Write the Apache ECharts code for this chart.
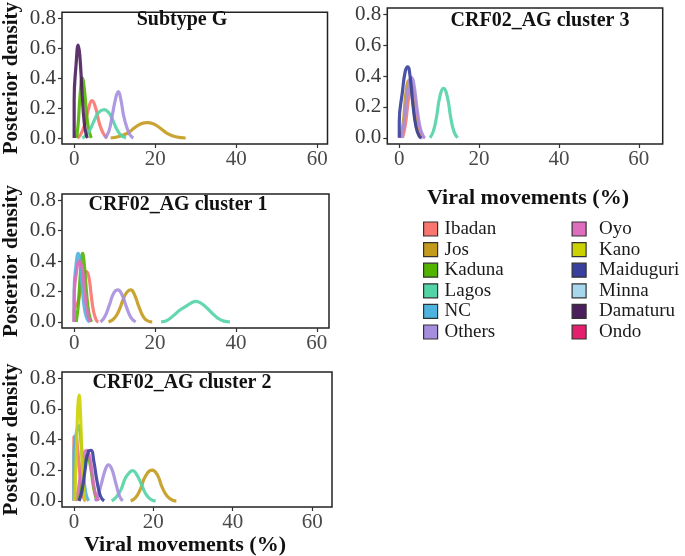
<!DOCTYPE html>
<html>
<head>
<meta charset="utf-8">
<script src="https://cdn.jsdelivr.net/npm/echarts@6/dist/echarts.min.js"></script>
<style>
html,body{margin:0;padding:0;background:#fff;}
#chart{width:685px;height:556px;}
</style>
</head>
<body>
<div id="chart"></div>
<script>
// ---------- data ----------
const xTicks = [0, 20, 40, 60];
const yTicks = [0, 0.2, 0.4, 0.6, 0.8];
const panelTitles = ['Subtype G', 'CRF02_AG cluster 3', 'CRF02_AG cluster 1', 'CRF02_AG cluster 2'];
const locations = ['Ibadan', 'Jos', 'Kaduna', 'Lagos', 'NC', 'Others', 'Oyo', 'Kano', 'Maiduguri', 'Minna', 'Damaturu', 'Ondo'];
const locationColors = ['#F8766D', '#C49A1C', '#53B400', '#53D3A6', '#4FB3DF', '#A68EDE', '#DE6DBD', '#CCD100', '#393F9C', '#A7D7EE', '#4B1E5C', '#E41F6D'];
const axisTitleX = 'Viral movements (%)';
const axisTitleY = 'Posterior density';
const legendTitle = 'Viral movements (%)';

// Subtype G
const g_Ibadan = [[0.8,0],[1.5,0.02],[2.5,0.08],[3.5,0.19],[4.4,0.25],[5.3,0.2],[6.2,0.1],[7.2,0.03],[8.2,0]];
const g_Jos = [[9,0],[11,0.01],[13,0.03],[15,0.07],[16.5,0.095],[18,0.103],[19.5,0.095],[21,0.07],[23,0.03],[25,0.008],[27.5,0]];
const g_Kaduna = [[0.6,0],[1.0,0.1],[1.5,0.3],[2.0,0.4],[2.5,0.33],[3.0,0.18],[3.5,0.07],[4.2,0]];
const g_Lagos = [[2,0],[3,0.02],[4,0.06],[5,0.12],[6,0.17],[7.4,0.19],[8.5,0.17],[9.5,0.12],[10.5,0.06],[11.5,0.02],[12.8,0]];
const g_Others = [[7.5,0],[8.5,0.04],[9.4,0.15],[10.2,0.26],[10.9,0.31],[11.5,0.26],[12.2,0.15],[13,0.07],[13.8,0.02],[14.6,0]];
const g_Damaturu = [[0,0],[0,0.25],[0.5,0.5],[1.0,0.62],[1.4,0.55],[2.0,0.28],[2.5,0.1],[3.0,0.02],[3.3,0]];

// CRF02_AG cluster 3
const c3_Ibadan = [[0.8,0],[1.5,0.08],[2.3,0.25],[3,0.34],[3.7,0.3],[4.5,0.15],[5.3,0.04],[6.2,0]];
const c3_Jos = [[0.3,0],[1,0.1],[1.7,0.3],[2.4,0.37],[3.1,0.3],[3.8,0.15],[4.6,0.04],[5.4,0]];
const c3_Lagos = [[7.7,0],[8.5,0.04],[9.3,0.13],[10.2,0.27],[11.1,0.32],[12,0.27],[12.9,0.13],[13.7,0.04],[14.6,0]];
const c3_Others = [[0.5,0],[1.2,0.1],[2,0.28],[2.6,0.37],[3.1,0.39],[3.7,0.34],[4.4,0.2],[5.2,0.07],[6,0.01],[6.5,0]];
const c3_Maiduguri = [[0,0],[0,0.1],[0.8,0.3],[1.5,0.43],[2.1,0.46],[2.7,0.4],[3.4,0.22],[4.2,0.07],[5,0.01],[5.6,0]];

// CRF02_AG cluster 1
const c1_Ibadan = [[0,0],[0,0.08],[0.8,0.12],[1.5,0.2],[2.3,0.3],[3.0,0.33],[3.6,0.3],[4.2,0.18],[4.8,0.07],[5.5,0.01],[6,0]];
const c1_Jos = [[8.5,0],[9.8,0.02],[11,0.07],[12.3,0.16],[13.2,0.2],[14,0.21],[14.9,0.18],[16,0.1],[17.2,0.03],[18.3,0.005],[19.3,0]];
const c1_Kaduna = [[0.5,0],[1,0.1],[1.5,0.3],[2.1,0.45],[2.6,0.35],[3.1,0.18],[3.7,0.05],[4.3,0]];
const c1_Lagos = [[21.5,0],[23,0.01],[24.5,0.04],[26,0.075],[27.5,0.1],[29,0.125],[30,0.135],[31,0.128],[32.5,0.1],[34,0.06],[35.5,0.025],[37,0.005],[38.5,0]];
const c1_NC = [[0,0],[0,0.2],[0.5,0.38],[1.0,0.45],[1.5,0.38],[2.0,0.22],[2.6,0.08],[3.2,0.02],[3.8,0]];
const c1_Others = [[6.5,0],[7.5,0.03],[8.7,0.11],[9.8,0.19],[10.8,0.21],[11.8,0.18],[12.9,0.1],[14,0.03],[15.2,0]];
const c1_Oyo = [[0,0],[0,0.15],[0.6,0.33],[1.3,0.4],[2,0.35],[2.6,0.2],[3.3,0.06],[4,0]];

// CRF02_AG cluster 2
const c2_Ibadan = [[0,0],[0,0.42],[0.4,0.42],[0.9,0.35],[1.4,0.2],[2,0.07],[2.6,0.01],[3,0]];
const c2_Jos = [[14.3,0],[15.5,0.02],[16.8,0.08],[18,0.16],[19.7,0.2],[21,0.17],[22.2,0.09],[23.5,0.03],[25,0.003],[25.8,0]];
const c2_Kaduna = [[1,0],[1.8,0.08],[2.6,0.22],[3.4,0.3],[4.2,0.22],[5,0.08],[5.8,0]];
const c2_Lagos = [[9.5,0],[10.5,0.02],[11.8,0.07],[13,0.15],[14.2,0.19],[14.8,0.197],[15.6,0.18],[16.8,0.12],[18,0.05],[19.3,0.01],[20.6,0]];
const c2_NC = [[0,0],[0,0.3],[0.6,0.44],[1.2,0.49],[1.8,0.38],[2.4,0.18],[3,0.05],[3.7,0]];
const c2_Others = [[5.3,0],[6,0.03],[7,0.12],[8,0.21],[8.7,0.235],[9.5,0.21],[10.5,0.12],[11.5,0.03],[12.3,0]];
const c2_Oyo = [[0.3,0],[1,0.06],[1.8,0.2],[2.6,0.31],[3.3,0.33],[4,0.28],[4.8,0.14],[5.5,0.04],[6.3,0]];
const c2_Kano = [[0.2,0],[0.6,0.3],[1.0,0.62],[1.3,0.69],[1.6,0.6],[2.0,0.3],[2.4,0.08],[2.8,0]];
const c2_Maiduguri = [[1.3,0],[2,0.06],[2.8,0.2],[3.6,0.32],[4.3,0.33],[5,0.26],[5.8,0.13],[6.7,0.03],[7.6,0]];

// Locations with no visible curve
const none_Minna = [];
const none_Ondo = [];

// ---------- assembly ----------
const panelCurves = [
  {Ibadan: g_Ibadan, Jos: g_Jos, Kaduna: g_Kaduna, Lagos: g_Lagos, Others: g_Others, Damaturu: g_Damaturu},
  {Ibadan: c3_Ibadan, Jos: c3_Jos, Lagos: c3_Lagos, Others: c3_Others, Maiduguri: c3_Maiduguri},
  {Ibadan: c1_Ibadan, Jos: c1_Jos, Kaduna: c1_Kaduna, Lagos: c1_Lagos, NC: c1_NC, Others: c1_Others, Oyo: c1_Oyo},
  {Ibadan: c2_Ibadan, Jos: c2_Jos, Kaduna: c2_Kaduna, Lagos: c2_Lagos, NC: c2_NC, Others: c2_Others, Oyo: c2_Oyo, Kano: c2_Kano, Maiduguri: c2_Maiduguri, Minna: none_Minna, Ondo: none_Ondo}
];

const FONT = '"Liberation Serif", "Times New Roman", serif';
const grids = [
  {left: 57.5, top: 10, width: 270, height: 134},
  {left: 387.3, top: 8, width: 275.4, height: 136},
  {left: 58, top: 194, width: 271, height: 134},
  {left: 56.5, top: 372, width: 275.5, height: 135}
];
const xMaxes = [62.5, 66, 63, 65];
const titlePos = [[182, 22], [540, 23], [178, 207], [182, 385]];
const showYName = [true, false, true, true];

const grid = grids.map(g => Object.assign({show: true, borderColor: '#222', borderWidth: 1.5, backgroundColor: '#fff', containLabel: false}, g));

const xAxis = grids.map((g, i) => ({
  type: 'value', gridIndex: i, min: -3, max: xMaxes[i], position: 'bottom',
  splitLine: {show: false},
  axisLine: {show: false, onZero: false},
  axisTick: {show: true, length: 4, lineStyle: {color: '#333', width: 1.2}, customValues: xTicks},
  axisLabel: {show: true, customValues: xTicks, color: '#4a4a4a', fontFamily: FONT, fontSize: 21, margin: 5}
}));

const yAxis = grids.map((g, i) => ({
  type: 'value', gridIndex: i, min: -0.04, max: 0.84, position: 'left',
  splitLine: {show: false},
  axisLine: {show: false, onZero: false},
  axisTick: {show: true, length: 4, lineStyle: {color: '#333', width: 1.2}, customValues: yTicks},
  axisLabel: {show: true, customValues: yTicks, color: '#3a3a3a', fontFamily: FONT, fontSize: 21, margin: 6,
    formatter: v => v.toFixed(1)},
  name: showYName[i] ? axisTitleY : '',
  nameLocation: 'middle', nameGap: 40, nameRotate: 90,
  nameTextStyle: {fontFamily: FONT, fontSize: 21, fontWeight: 'bold', color: '#111'}
}));

const series = [];
panelCurves.forEach((curves, p) => {
  locations.forEach((loc, k) => {
    if (!(loc in curves)) return;
    series.push({
      type: 'line', name: loc, xAxisIndex: p, yAxisIndex: p,
      data: curves[loc], showSymbol: false, symbol: 'none',
      smooth: 0.5,
      lineStyle: {color: locationColors[k], width: 3.2, opacity: 0.9},
      itemStyle: {color: locationColors[k]},
      emphasis: {disabled: true},
      animation: false
    });
  });
});

const title = panelTitles.map((t, i) => ({
  text: t, left: titlePos[i][0], top: titlePos[i][1] - 12, textAlign: 'center', padding: 0,
  textStyle: {fontFamily: FONT, fontSize: 20, fontWeight: 'bold', color: '#111'}
}));
title.push({text: axisTitleX, left: 185, top: 534, textAlign: 'center', padding: 0,
  textStyle: {fontFamily: FONT, fontSize: 22, fontWeight: 'bold', color: '#111'}});
title.push({text: legendTitle, left: 528, top: 187, textAlign: 'center', padding: 0,
  textStyle: {fontFamily: FONT, fontSize: 22, fontWeight: 'bold', color: '#111'}});

const legendCommon = {
  orient: 'vertical', icon: 'rect', itemWidth: 14, itemHeight: 14, itemGap: 1.6,
  padding: 0, selectedMode: false, top: 219.5,
  itemStyle: {borderColor: '#333', borderWidth: 1.2}
};
const legend = [
  Object.assign({}, legendCommon, {left: 423, data: locations.slice(0, 6),
    textStyle: {fontFamily: FONT, fontSize: 19, color: '#1a1a1a', padding: [0, 0, 0, 2]}}),
  Object.assign({}, legendCommon, {left: 571.5, data: locations.slice(6),
    textStyle: {fontFamily: FONT, fontSize: 19, color: '#1a1a1a', padding: [0, 0, 0, 8]}})
];

const chart = echarts.init(document.getElementById('chart'), null, {renderer: 'canvas'});
chart.setOption({
  backgroundColor: '#fff',
  animation: false,
  title, legend, grid, xAxis, yAxis, series
});
</script>
</body>
</html>
